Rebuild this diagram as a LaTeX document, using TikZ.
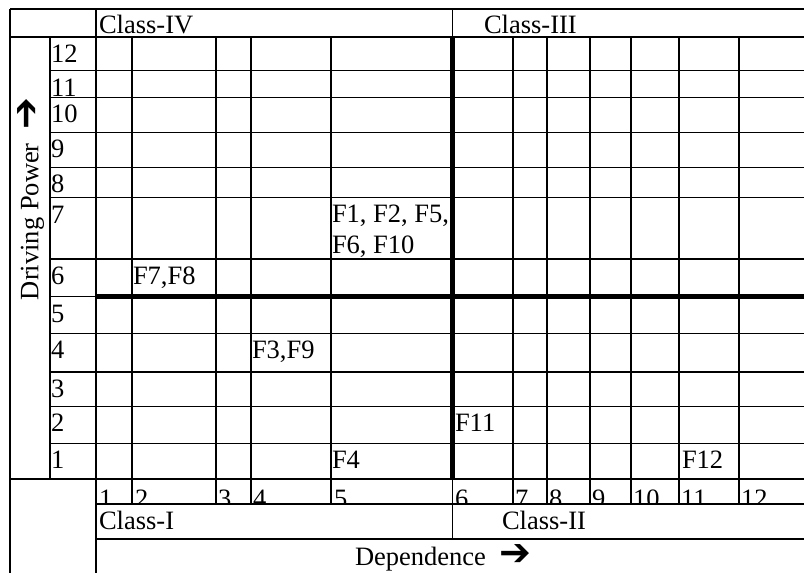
\documentclass[tikz,border=0pt]{standalone}
\usepackage{fontspec}
\setmainfont{Liberation Serif}
\newfontfamily\dvs{DejaVu Sans}
\begin{document}
\begin{tikzpicture}[x=0.5pt,y=-0.5pt,
  thinline/.style={line width=0.6pt},
  thickline/.style={line width=2.6pt},
  lbl/.style={anchor=base west, inner sep=0pt, outer sep=0pt, font=\fontsize{13.25}{15.5}\selectfont}]
\useasboundingbox (0,0) rectangle (804,573);
\fill[white] (0,0) rectangle (804,573);

% ---- texts ----
\node[lbl] (classIV) at (99,33) {Class-IV};
\node[lbl] (classIII) at (484,33) {Class-III};

% row labels
\node[lbl] (r12) at (51,62) {12};
\node[lbl] (r11) at (51,96.5) {11};
\node[lbl] (r10) at (51,122) {10};
\node[lbl] (r9) at (51,157) {9};
\node[lbl] (r8) at (51,192) {8};
\node[lbl] (r7) at (51,223) {7};
\node[lbl] (r6) at (51,284.5) {6};
\node[lbl] (r5) at (51,322) {5};
\node[lbl] (r4) at (51,358.5) {4};
\node[lbl] (r3) at (51,397) {3};
\node[lbl] (r2) at (51,431.5) {2};
\node[lbl] (r1) at (51,468.5) {1};

% factor entries
\node[lbl, anchor=north west, align=left] (f1) at (332,205) {F1, F2, F5,\\F6, F10};
\node[lbl] (f7) at (133,284.5) {F7,F8};
\node[lbl] (f3) at (252,358.5) {F3,F9};
\node[lbl] (f11) at (455,431.5) {F11};
\node[lbl] (f4) at (332,468.5) {F4};
\node[lbl] (f12) at (682,468.5) {F12};

% column numbers (clipped by the row)
\begin{scope}
\clip (96,479) rectangle (804,504);
\node[lbl] (c1) at (99,507) {1};
\node[lbl] (c2) at (135,507) {2};
\node[lbl] (c3) at (218,507) {3};
\node[lbl] (c4) at (253,507) {4};
\node[lbl] (c5) at (334,507) {5};
\node[lbl] (c6) at (455,507) {6};
\node[lbl] (c7) at (515,507) {7};
\node[lbl] (c8) at (549,507) {8};
\node[lbl] (c9) at (592,507) {9};
\node[lbl] (c10) at (633,507) {10};
\node[lbl] (c11) at (681,507) {11};
\node[lbl] (c12) at (741,507) {12};
\end{scope}

\node[lbl] (classI) at (99,529) {Class-I};
\node[lbl] (classII) at (502,529) {Class-II};
\node[lbl] (dep) at (355,565) {Dependence\hspace{7pt}{\dvs\bfseries\fontsize{19}{19}\selectfont ➔}};
\node[lbl, rotate=90] (drv) at (38.5,300) {Driving Power\hspace{7pt}{\dvs\bfseries\fontsize{19}{19}\selectfont ➔}};

% ---- grid ----
\foreach \y in {9,37,479} \draw[thinline] (10,\y) -- (804,\y);
\foreach \y in {70.7,97.3,132.3,167.3,197.7,259,333.3,372,406.7,443.3} \draw[thinline] (50,\y) -- (804,\y);
\draw[thinline] (50,296.7) -- (96,296.7);
\foreach \y in {504,539} \draw[thinline] (96,\y) -- (804,\y);
\draw[thinline] (10,9) -- (10,573);
\draw[thinline] (96,9) -- (96,573);
\draw[thinline] (50,37) -- (50,479);
\foreach \x in {132,216,251,331,513,547,590,631,679,739} \draw[thinline] (\x,37) -- (\x,504);
\draw[thinline] (452.7,9) -- (452.7,37);
\draw[thinline] (452.7,479) -- (452.7,539);
\draw[thickline] (452.7,37) -- (452.7,479);
\draw[thickline] (96,296.7) -- (804,296.7);
\end{tikzpicture}
\end{document}
